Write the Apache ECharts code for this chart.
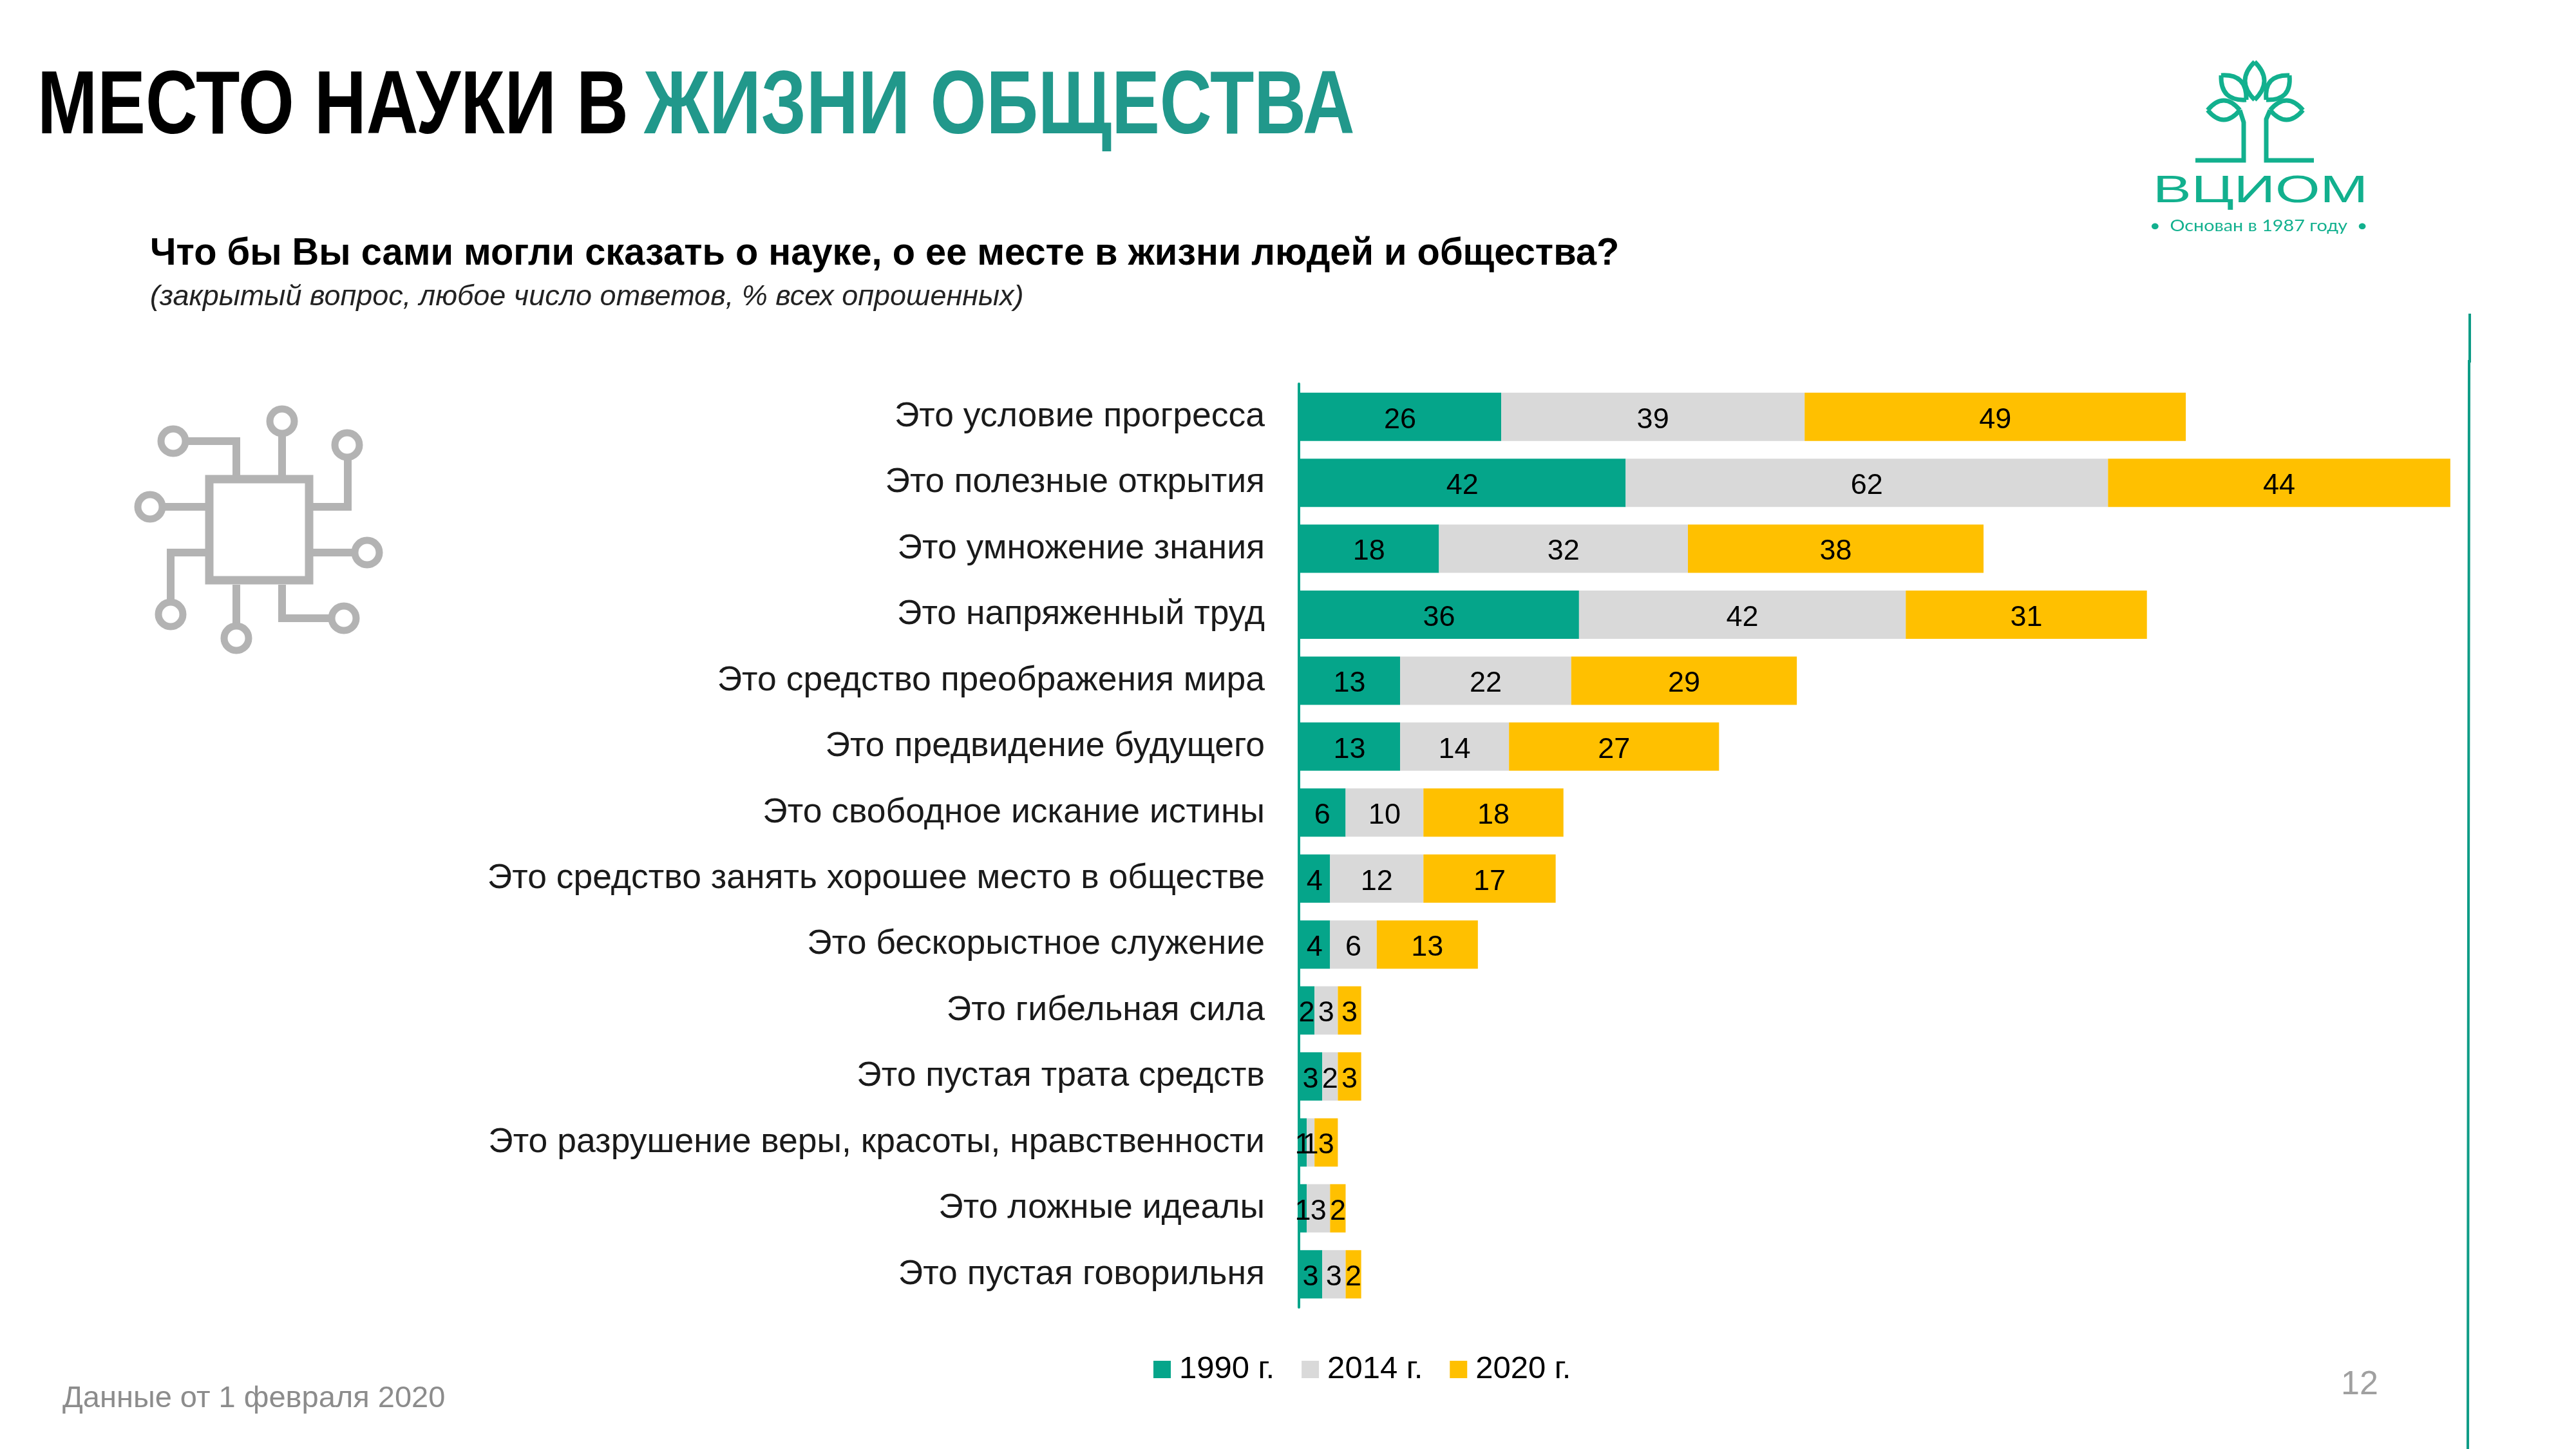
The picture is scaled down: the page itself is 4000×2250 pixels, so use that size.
<!DOCTYPE html>
<html>
<head>
<meta charset="utf-8">
<style>html,body{margin:0;background:#fff}#main{width:4000px;height:2250px}</style>
<script src="https://cdn.jsdelivr.net/npm/echarts@6/dist/echarts.min.js"></script>
</head>
<body>
<div id="main"></div>
<script>
var categories = [
    'Это условие прогресса', 'Это полезные открытия', 'Это умножение знания', 'Это напряженный труд',
    'Это средство преображения мира', 'Это предвидение будущего', 'Это свободное искание истины',
    'Это средство занять хорошее место в обществе', 'Это бескорыстное служение', 'Это гибельная сила',
    'Это пустая трата средств', 'Это разрушение веры, красоты, нравственности', 'Это ложные идеалы',
    'Это пустая говорильня'
];
var values1990 = [26, 42, 18, 36, 13, 13, 6, 4, 4, 2, 3, 1, 1, 3];
var values2014 = [39, 62, 32, 42, 22, 14, 10, 12, 6, 3, 2, 1, 3, 3];
var values2020 = [49, 44, 38, 31, 29, 27, 18, 17, 13, 3, 3, 3, 2, 2];
var seriesNames = ['1990 г.', '2014 г.', '2020 г.'];

var TEAL = '#05A58A';
var LOGO = '#12B08E';
var ICON = '#B3B3B3';
var BASE_FONT = 'Liberation Sans';

function barSeries(name, data, color) {
    return {
        name: name,
        type: 'bar',
        stack: 'total',
        barWidth: 75,
        data: data,
        itemStyle: {color: color},
        label: {
            show: true,
            position: 'inside',
            offset: [0, 5],
            color: '#000',
            fontSize: 45,
            fontFamily: BASE_FONT
        }
    };
}

function text(x, y, str, font, fill, scaleX) {
    return {
        type: 'text',
        x: x,
        y: y,
        scaleX: scaleX || 1,
        style: {text: str, font: font, fill: fill}
    };
}

function line(points, color, width) {
    return {
        type: 'polyline',
        shape: {points: points},
        style: {stroke: color, lineWidth: width, fill: null}
    };
}

// листик логотипа: две кривые между концами
function leaf(x1, y1, x2, y2, b) {
    var mx = (x1 + x2) / 2, my = (y1 + y2) / 2;
    var dx = x2 - x1, dy = y2 - y1;
    var len = Math.sqrt(dx * dx + dy * dy);
    var nx = -dy / len * b, ny = dx / len * b;
    return [1, -1].map(function (s) {
        return {
            type: 'bezierCurve',
            shape: {x1: x1, y1: y1, x2: x2, y2: y2, cpx1: mx + nx * s, cpy1: my + ny * s},
            style: {stroke: LOGO, lineWidth: 7, fill: null}
        };
    });
}

// иконка микросхемы
function chipIcon() {
    var out = [{
        type: 'rect',
        shape: {x: 325, y: 744, width: 155, height: 157},
        style: {stroke: ICON, lineWidth: 13, fill: null}
    }];
    var wires = [
        [[438, 677], [438, 738]],
        [[292, 685], [367, 685], [367, 738]],
        [[540, 714], [540, 787], [486, 787]],
        [[256, 787], [319, 787]],
        [[547, 858], [486, 858]],
        [[265, 931], [265, 858], [319, 858]],
        [[367, 968], [367, 908]],
        [[511, 960], [438, 960], [438, 908]]
    ];
    wires.forEach(function (w) {
        out.push(line(w, ICON, 12));
    });
    var nodes = [[438, 654], [269, 685], [539, 691], [233, 787], [570, 858], [265, 954], [367, 991], [534, 960]];
    nodes.forEach(function (n) {
        out.push({
            type: 'circle',
            shape: {cx: n[0], cy: n[1], r: 19},
            style: {stroke: ICON, lineWidth: 11, fill: '#fff'}
        });
    });
    return out;
}

function logo() {
    var out = [];
    out = out.concat(leaf(3501, 96, 3501, 155, 30));
    out = out.concat(leaf(3449, 117, 3488, 155, 30));
    out = out.concat(leaf(3555, 117, 3519, 155, 30));
    out = out.concat(leaf(3428, 171, 3478, 171, 30));
    out = out.concat(leaf(3525, 171, 3576, 171, 30));
    out.push(line([[3409, 249], [3484, 249], [3484, 190], [3478, 171]], LOGO, 7));
    out.push(line([[3593, 249], [3519, 249], [3519, 185], [3525, 171]], LOGO, 7));
    out.push(text(3343, 267, 'ВЦИОМ', '60px "Liberation Sans"', LOGO, 1.49));
    out.push(text(3338, 338, '•  Основан в 1987 году  •', '25px Lato', LOGO, 1.15));
    return out;
}

var chart = echarts.init(document.getElementById('main'));
chart.setOption({
    backgroundColor: '#fff',
    animation: false,
    grid: {left: 2017, top: 596, width: 1812, height: 1434},
    legend: {
        left: 1791,
        top: 2102,
        padding: 0,
        itemWidth: 27,
        itemHeight: 27,
        itemGap: 42,
        icon: 'rect',
        data: seriesNames,
        textStyle: {fontSize: 49, fontFamily: BASE_FONT, color: '#000', padding: [0, 0, 0, 8]}
    },
    xAxis: {type: 'value', min: 0, max: 150, show: false},
    yAxis: {
        type: 'category',
        inverse: true,
        data: categories,
        axisLine: {show: true, lineStyle: {color: TEAL, width: 4}},
        axisTick: {show: false},
        axisLabel: {margin: 53, fontSize: 53.5, color: '#1a1a1a', fontFamily: BASE_FONT, padding: [24, 0, 0, 0]}
    },
    series: [
        barSeries(seriesNames[0], values1990, TEAL),
        barSeries(seriesNames[1], values2014, '#D9D9D9'),
        barSeries(seriesNames[2], values2020, '#FFC000')
    ],
    graphic: [
        text(58, 98, 'МЕСТО НАУКИ В', 'bold 140px "Liberation Sans"', '#000', 0.8),
        text(1000, 98, 'ЖИЗНИ ОБЩЕСТВА', 'bold 140px "Liberation Sans"', '#21988B', 0.8),
        text(233, 364, 'Что бы Вы сами могли сказать о науке, о ее месте в жизни людей и общества?', 'bold 60px "Liberation Sans"', '#000', 0.963),
        text(233, 439, '(закрытый вопрос, любое число ответов, % всех опрошенных)', 'italic 45px "Liberation Sans"', '#222', 1),
        text(97, 2149, 'Данные от 1 февраля 2020', '47px "Liberation Sans"', '#8C8C8C', 1),
        text(3635, 2125, '12', '52px "Liberation Sans"', '#A0A0A0', 1),
        line([[3835, 487], [3835, 561], [3834, 561], [3832, 2250]], '#0E9C86', 4)
    ].concat(chipIcon(), logo())
});
</script>
</body>
</html>
